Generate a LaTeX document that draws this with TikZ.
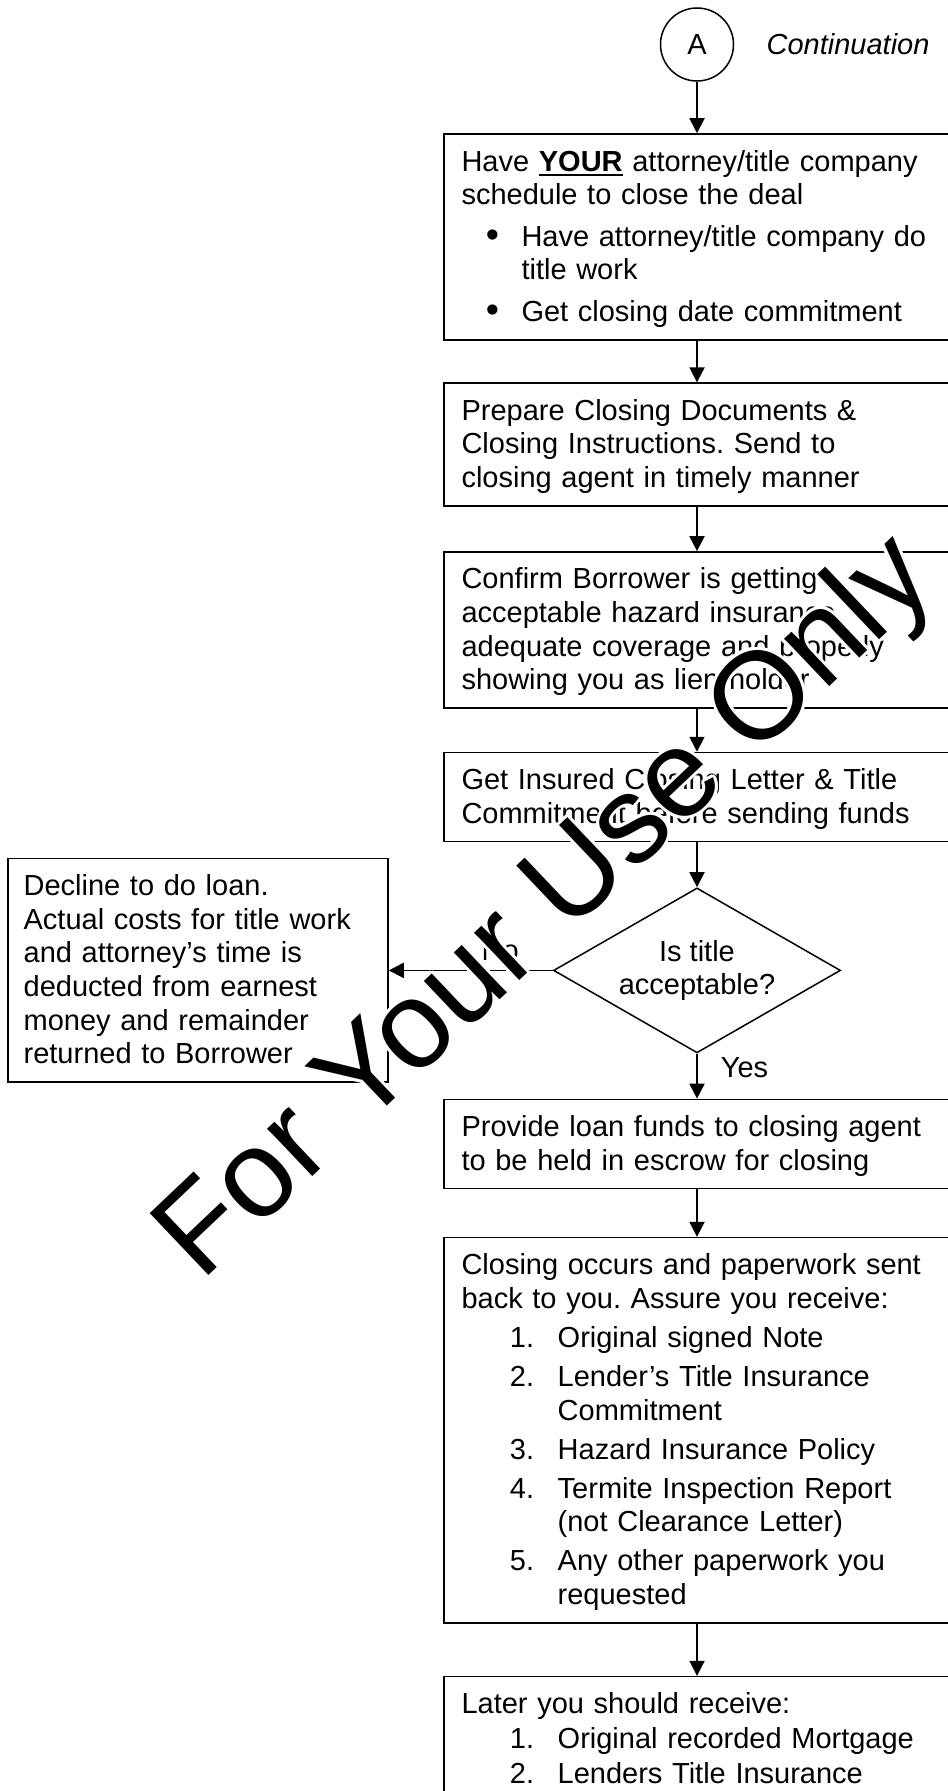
\documentclass[tikz,border=0pt]{standalone}
\usepackage{fontspec}
\setmainfont{Liberation Sans}
\usetikzlibrary{positioning,shapes.geometric,arrows.meta}

\newcommand{\ulword}[1]{\setbox0\hbox{#1}\rlap{\rule[-2.6pt]{\wd0}{1.1pt}}\box0\relax}
\newcommand{\bulletline}[1]{\hspace*{12.2pt}\makebox[17.8pt][l]{\raisebox{-0.5pt}{\scalebox{1.3}{\textbullet}}}#1}
\newcommand{\numline}[2]{\hspace*{24.2pt}\makebox[23.9pt][l]{#1}#2}
\newcommand{\contline}[2]{\hspace*{#1}#2}

\begin{document}
\frenchspacing
\begin{tikzpicture}[x=0.5pt, y=-0.5pt,
    every node/.style={font=\fontsize{14.5pt}{16.8pt}\selectfont},
    flowbox/.style={draw, line width=0.8pt, rectangle, text width=235.5pt, inner xsep=8.75pt, inner ysep=5pt, align=left,
        execute at begin node={\noindent\rule{0pt}{13.5pt}}, execute at end node={\rule[-4.25pt]{0pt}{0pt}}},
    decision/.style={draw, line width=0.75pt, diamond, aspect=1.74, inner sep=0pt, minimum width=143.5pt, minimum height=82.5pt, align=center},
    flow/.style={-{Triangle[length=7.5pt, width=7.5pt]}, line width=0.9pt},
    wmark/.style={font=\fontsize{62pt}{62pt}\selectfont, anchor=base, rotate=43.5, inner sep=0pt}]

    \path[use as bounding box, fill=white] (0,0) rectangle (947,1791);

    \node[draw, circle, line width=0.75pt, minimum size=36.5pt, inner sep=0pt] (A) at (697,44.5) {A};
    \node[font=\fontsize{14.5pt}{16.8pt}\selectfont\itshape, inner sep=0pt, right=16pt of A] (cont) {Continuation};

    \node[flowbox, below=25.75pt of A] (attorney) {Have \ulword{\textbf{YOUR}} attorney/title company\\
        schedule to close the deal\\[4pt]
        \bulletline{Have attorney/title company do}\\
        \contline{30pt}{title work}\\[4pt]
        \bulletline{Get closing date commitment}};
    \node[flowbox, below=20.8pt of attorney] (closedocs) {Prepare Closing Documents \&\\
        Closing Instructions. Send to\\
        closing agent in timely manner};
    \node[flowbox, below=22.25pt of closedocs] (insure) {Confirm Borrower is getting\\
        acceptable hazard insurance,\\
        adequate coverage and properly\\
        showing you as lien holder};
    \node[flowbox, below=21.35pt of insure] (titlecert) {Get Insured Closing Letter \& Title\\
        Commitment before sending funds};
    \node[decision, below=22.35pt of titlecert] (titleok) {Is title\\acceptable?};
    \node[flowbox, text width=174.3pt, inner xsep=7.85pt, left=82pt of titleok] (decline) {Decline to do loan.\\
        Actual costs for title work\\
        and attorney's time is\\
        deducted from earnest\\
        money and remainder\\
        returned to Borrower};
    \node[flowbox, below=22.5pt of titleok] (funds) {Provide loan funds to closing agent\\
        to be held in escrow for closing};
    \node[flowbox, below=23.75pt of funds] (closing) {Closing occurs and paperwork sent\\
        back to you. Assure you receive:\\[2.75pt]
        \numline{1.}{Original signed Note}\\[2.75pt]
        \numline{2.}{Lender's Title Insurance}\\
        \contline{48.1pt}{Commitment}\\[2.75pt]
        \numline{3.}{Hazard Insurance Policy}\\[2.75pt]
        \numline{4.}{Termite Inspection Report}\\
        \contline{48.1pt}{(not Clearance Letter)}\\[2.75pt]
        \numline{5.}{Any other paperwork you}\\
        \contline{48.1pt}{requested}};
    \node[flowbox, below=26pt of closing] (later) {Later you should receive:\\[0.7pt]
        \numline{1.}{Original recorded Mortgage}\\[0.7pt]
        \numline{2.}{Lenders Title Insurance}};

    \draw[flow] (A) -- (attorney);
    \draw[flow] (attorney) -- (closedocs);
    \draw[flow] (closedocs) -- (insure);
    \draw[flow] (insure) -- (titlecert);
    \draw[flow] (titlecert) -- (titleok);
    \draw[flow] (titleok) -- node[pos=0.3, right=11.5pt, inner sep=0pt] (yes) {Yes} (funds);
    \draw[flow] (titleok) -- node[pos=0.32, above=4.5pt, inner sep=0pt] (no) {No} (decline);
    \draw[flow] (funds) -- (closing);
    \draw[flow] (closing) -- (later);

    % watermark with a white halo
    \foreach \ang [count=\i] in {0,30,...,330}
        \node[wmark, text=white, shift={(\ang:1.5pt)}] (halo\i) at (570,933) {For Your Use Only};
    \node[wmark] (watermark) at (570,933) {For Your Use Only};
\end{tikzpicture}
\end{document}
